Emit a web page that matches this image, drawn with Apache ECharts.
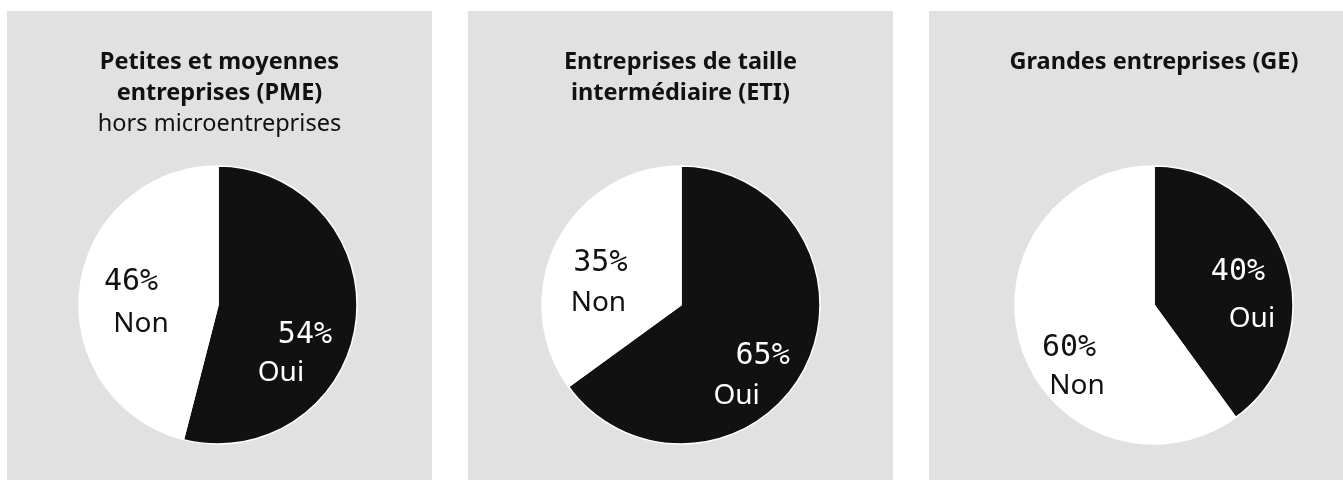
<!DOCTYPE html>
<html>
<head>
<meta charset="utf-8">
<script src="https://cdn.jsdelivr.net/npm/echarts@6/dist/echarts.min.js"></script>
<style>
  html, body { margin: 0; width: 1343px; height: 480px; overflow: hidden; background: #fff; }
  .card { position: absolute; top: 11px; height: 469px; background: #e1e1e1; }
</style>
</head>
<body>
<div class="card" id="c0" style="left:7px;width:425px"></div>
<div class="card" id="c1" style="left:468px;width:425px"></div>
<div class="card" id="c2" style="left:929px;width:450px"></div>
<script>
// Three small pies, one per company size: share answering Oui / Non.
const TITLES = [
  'Petites et moyennes\nentreprises (PME)',
  'Entreprises de taille\nintermédiaire (ETI)',
  'Grandes entreprises (GE)',
];
const SUBTITLES = ['hors microentreprises', '', ''];
const CATEGORIES = ['Oui', 'Non'];
const OUI = [54, 65, 40];
const NON = [46, 35, 60];

const INK = '#111111';
const SLICE_COLORS = ['#111111', '#ffffff'];
const LABEL_COLORS = ['#ffffff', '#111111'];
const PCT_FONT = '"DejaVu Sans Mono", monospace';
const TXT_FONT = '"Noto Sans", sans-serif';

// Per-slice label nudges off the library's 'inside' anchor: [dx, dy, lineShift, lineGap]
const NUDGE = [
  [[3, 40, 12, 38], [-10, 7, -5, 42]],
  [[4, 38, 13, 40], [-17, 11, 1, 39]],
  [[22, 13, -7, 46], [-12, 40, -4, 38]],
];

function shiftPad(s) {
  // centred token: left padding 2s moves it right by s, right padding moves it left
  return s >= 0 ? [0, 0, 0, 2 * s] : [0, -2 * s, 0, 0];
}

function pieOption(i, cx) {
  const values = [OUI[i], NON[i]];
  const data = CATEGORIES.map((name, k) => {
    const [dx, dy, shift, gap] = NUDGE[i][k];
    return {
      name,
      value: values[k],
      itemStyle: { color: SLICE_COLORS[k] },
      label: {
        color: LABEL_COLORS[k],
        offset: [dx, dy],
        rich: {
          p: { fontFamily: PCT_FONT, fontSize: 30, lineHeight: gap, color: LABEL_COLORS[k], align: 'center', padding: shiftPad(shift) },
          n: { fontFamily: TXT_FONT, fontSize: 28, lineHeight: gap, color: LABEL_COLORS[k], align: 'center', padding: shiftPad(-shift) },
        },
      },
    };
  });
  return {
    animation: false,
    title: {
      text: TITLES[i],
      subtext: SUBTITLES[i],
      left: 'center',
      top: 31,
      itemGap: 0,
      textStyle: { fontFamily: TXT_FONT, fontWeight: 'bold', fontSize: 23.5, lineHeight: 31, color: INK },
      subtextStyle: { fontFamily: TXT_FONT, fontWeight: 'normal', fontSize: 23.5, lineHeight: 31, color: INK },
    },
    series: [{
      type: 'pie',
      silent: true,
      center: [cx, 294],
      radius: 139,
      startAngle: 90,
      clockwise: true,
      avoidLabelOverlap: false,
      itemStyle: { borderColor: '#ffffff', borderWidth: 1.5 },
      label: {
        show: true,
        position: 'inside',
        formatter: (p) => `{p|${p.value}%}\n{n|${p.name}}`,
      },
      labelLine: { show: false },
      data,
    }],
  };
}

const CENTERS_X = [211, 213, 225];
[0, 1, 2].forEach((i) => {
  const chart = echarts.init(document.getElementById('c' + i), null, { renderer: 'canvas' });
  chart.setOption(pieOption(i, CENTERS_X[i]));
});
</script>
</body>
</html>
